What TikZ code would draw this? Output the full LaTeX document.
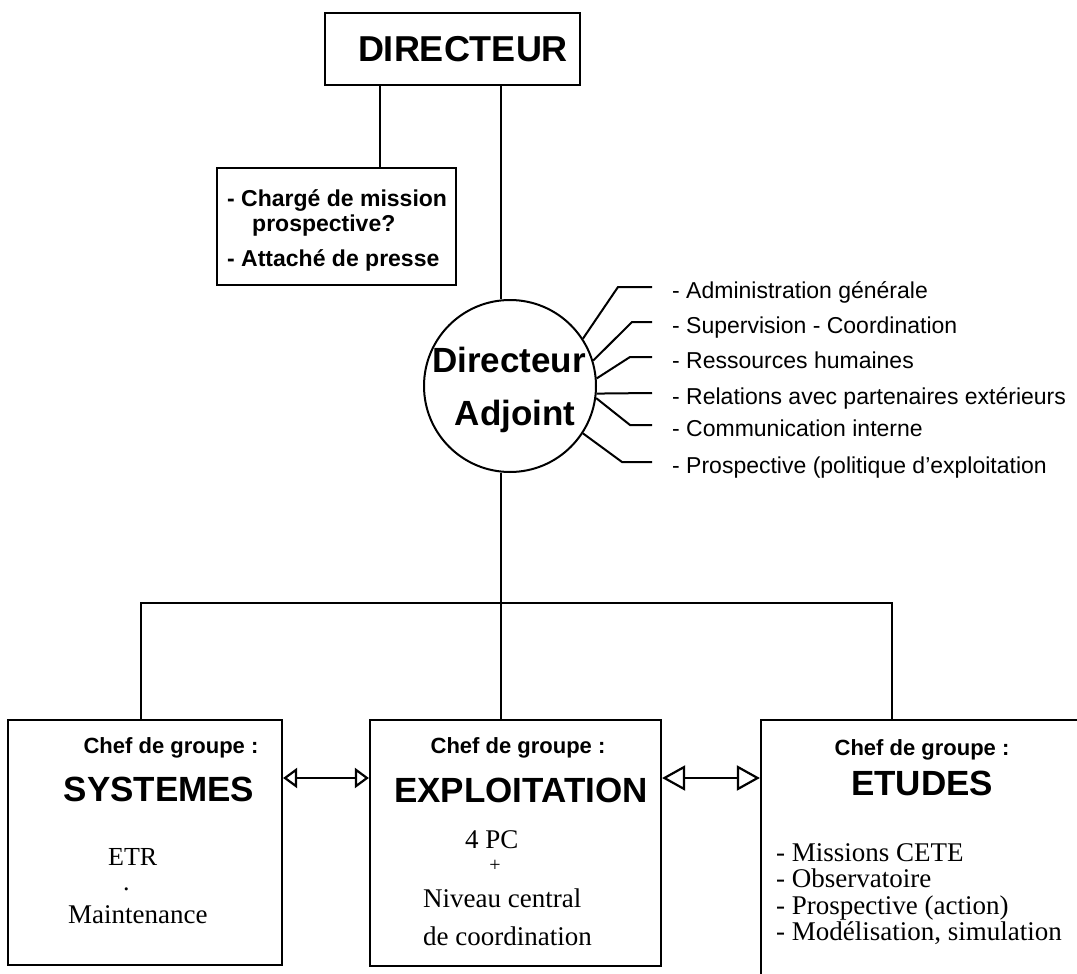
\documentclass[tikz,border=0pt]{standalone}
\usepackage{fontspec}
\setmainfont{Liberation Serif}
\setsansfont{Liberation Sans}
\usetikzlibrary{arrows.meta}
\newcommand{\fsz}[1]{\fontsize{#1}{#1}\selectfont}
\begin{document}
\begin{tikzpicture}[x=1pt,y=-1pt,
  conn/.style={line width=2.8pt},
  boxe/.style={draw, line width=2.2pt, inner sep=0pt},
  lbl/.style={anchor=base west, inner sep=0pt, font=\sffamily\fsz{23}},
  stafftxt/.style={anchor=base west, inner sep=0pt, font=\sffamily\bfseries\fsz{23}},
  chef/.style={anchor=base, inner sep=0pt, font=\sffamily\bfseries\fsz{22}},
  title/.style={anchor=base, inner sep=0pt, font=\sffamily\bfseries\fsz{35}},
  serif/.style={anchor=base west, inner sep=0pt, font=\rmfamily\fsz{27}},
  dbl/.style={line width=2.2pt},
  spoke/.style={line width=2pt},
]
\clip (0,0) rectangle (1077,974);
\fill[white] (0,0) rectangle (1077,974);

% top
\node[boxe, minimum width=255pt, minimum height=72pt] (dir) at (452.5,49) {};
\node[inner sep=0pt, font=\sffamily\bfseries\fsz{36}] (dirt) at (463,49) {DIRECTEUR};

\node[boxe, minimum width=239pt, minimum height=117pt] (staff) at (336.5,226.5) {};
\node[stafftxt] (s1) at (227,206) {- Chargé de mission};
\node[stafftxt] (s2) at (252,231) {prospective?};
\node[stafftxt] (s3) at (227,266) {- Attaché de presse};

\coordinate (xs) at (380,0);
\draw[conn] (dir.south -| xs) -- (staff.north -| xs);

% circle
\node[draw, circle, line width=2pt, minimum size=172pt, inner sep=0pt] (adj) at (510,386) {};
\node[anchor=base, inner sep=0pt, font=\sffamily\bfseries\fsz{35}] (adj1) at (509,372) {Directeur};
\node[anchor=base, inner sep=0pt, font=\sffamily\bfseries\fsz{35}] (adj2) at (515,425) {Adjoint};

\coordinate (xl) at (501,0);
\draw[conn] (dir.south -| xl) -- (adj.north -| xl);

% labels of the deputy
\node[lbl] (l1) at (672,298) {- Administration générale};
\node[lbl] (l2) at (672,333) {- Supervision - Coordination};
\node[lbl] (l3) at (672,368) {- Ressources humaines};
\node[lbl] (l4) at (672,404) {- Relations avec partenaires extérieurs};
\node[lbl] (l5) at (672,436) {- Communication interne};
\node[lbl] (l6) at (672,473) {- Prospective (politique d'exploitation};

\draw[spoke] (adj.33) -- (618,287) -- (652,287);
\draw[spoke] (adj.17) -- (632,322) -- (652,322);
\draw[spoke] (adj.5) -- (630,357) -- (652,357);
\draw[spoke] (adj.-5) -- (652,393);
\draw[spoke] (adj.-8) -- (630,425) -- (652,425);
\draw[spoke] (adj.-33) -- (622,462) -- (652,462);

% bottom boxes
\node[boxe, minimum width=274pt, minimum height=245pt] (sys) at (145,842.5) {};
\node[boxe, minimum width=291pt, minimum height=246pt] (exp) at (515.5,843) {};
\node[boxe, minimum width=334pt, minimum height=270pt] (etd) at (928,855) {};

\coordinate (bl) at (141,603);
\coordinate (br) at (892,603);
\draw[conn] (sys.north -| bl) -- (bl) -- (br) -- (etd.north -| br);
\draw[conn] (adj.south -| xl) -- (exp.north -| xl);

\coordinate (ay) at (0,778);
\draw[dbl, {Triangle[open,length=14pt,width=20pt]}-{Triangle[open,length=14pt,width=20pt]}] (sys.east |- ay) -- (exp.west |- ay);
\draw[dbl, {Triangle[open,length=23pt,width=25pt]}-{Triangle[open,length=23pt,width=25pt]}] (exp.east |- ay) -- (etd.west |- ay);

% box texts
\node[chef] (c1) at (171,753) {Chef de groupe :};
\node[chef] (c2) at (518,753) {Chef de groupe :};
\node[chef] (c3) at (922,755) {Chef de groupe :};
\node[title] (t1) at (159,801) {SYSTEMES};
\node[title] (t2) at (521,802) {EXPLOITATION};
\node[title] (t3) at (922,795) {ETUDES};

\node[serif, font=\rmfamily\fsz{26}] (e1) at (108,865) {ETR};
\node[serif, font=\rmfamily\fsz{26}] (e2) at (123,890) {.};
\node[serif] (e3) at (68,923) {Maintenance};

\node[serif] (x1) at (465,848) {4 PC};
\node[inner sep=0pt, font=\rmfamily\fsz{20}] (x2) at (495,866) {+};
\node[serif] (x3) at (423,907) {Niveau central};
\node[serif] (x4) at (423,945) {de coordination};

\node[serif] (m1) at (776,861) {- Missions CETE};
\node[serif] (m2) at (776,887) {- Observatoire};
\node[serif] (m3) at (776,914) {- Prospective (action)};
\node[serif] (m4) at (776,940) {- Modélisation, simulation};
\end{tikzpicture}
\end{document}
